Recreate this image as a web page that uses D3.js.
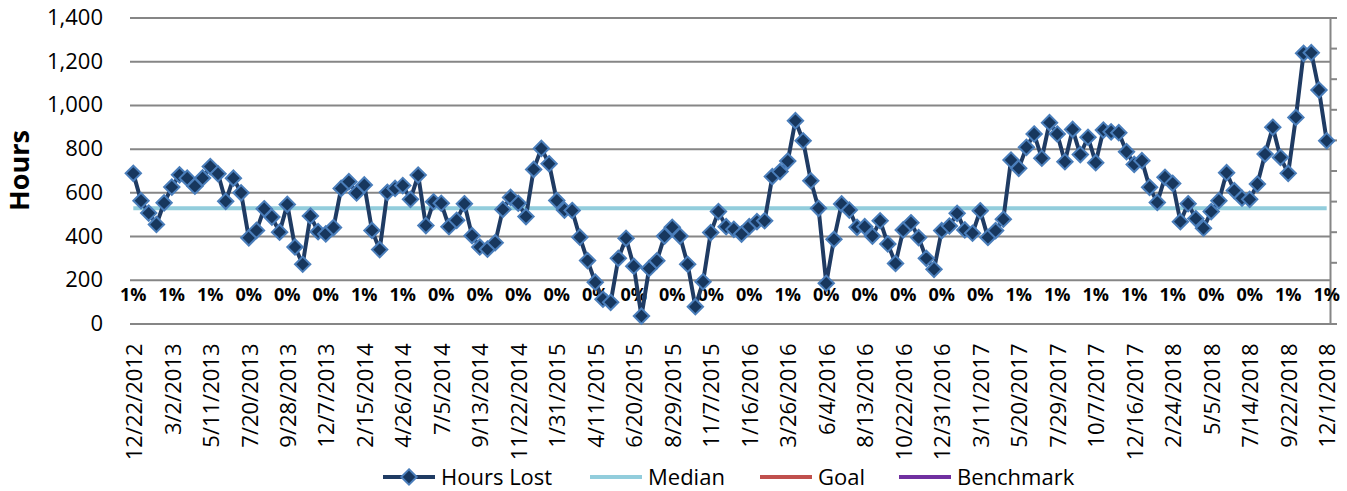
<!DOCTYPE html>
<html>
<head>
<meta charset="utf-8">
<script src="https://cdn.jsdelivr.net/npm/d3@7"></script>
<style>
  body { margin: 0; background: #fff; }
  text { font-family: "Open Sans", "Liberation Sans", sans-serif; fill: #000; }
  .yaxis .tick line { stroke: #868686; stroke-width: 2; }
  .yaxis path { display: none; }
  .y2axis path, .y2axis line { stroke: #868686; stroke-width: 2; }
</style>
</head>
<body>
<div id="chart"></div>
<script>
// tick labels on the category axis (every 5th point)
var dateLabels = ['12/22/2012', '3/2/2013', '5/11/2013', '7/20/2013', '9/28/2013', '12/7/2013',
  '2/15/2014', '4/26/2014', '7/5/2014', '9/13/2014', '11/22/2014', '1/31/2015', '4/11/2015',
  '6/20/2015', '8/29/2015', '11/7/2015', '1/16/2016', '3/26/2016', '6/4/2016', '8/13/2016',
  '10/22/2016', '12/31/2016', '3/11/2017', '5/20/2017', '7/29/2017', '10/7/2017', '12/16/2017',
  '2/24/2018', '5/5/2018', '7/14/2018', '9/22/2018', '12/1/2018'];

// percent labels shown along the bottom, one per labelled date
var pctLabels = ['1%', '1%', '1%', '0%', '0%', '0%', '1%', '1%', '0%', '0%', '0%', '0%', '0%', '0%',
  '0%', '0%', '0%', '1%', '0%', '0%', '0%', '0%', '0%', '1%', '1%', '1%', '1%', '1%', '0%', '0%', '1%', '1%'];

// Hours Lost, one value every two weeks
var hoursLost = [687, 562, 505, 453, 552, 624, 680, 665, 628, 666,
  718, 685, 559, 665, 598, 392, 426, 525, 487, 418,
  545, 350, 271, 492, 420, 410, 439, 618, 649, 597,
  634, 426, 338, 600, 618, 631, 568, 679, 448, 557,
  550, 443, 472, 548, 402, 350, 340, 370, 522, 577,
  550, 489, 705, 801, 731, 563, 519, 517, 395, 288,
  189, 111, 97, 298, 390, 262, 34, 252, 287, 400,
  440, 400, 271, 77, 191, 416, 512, 443, 431, 409,
  443, 466, 470, 672, 695, 743, 928, 836, 653, 527,
  184, 385, 547, 519, 440, 443, 400, 470, 364, 275,
  428, 461, 393, 298, 248, 425, 446, 504, 428, 413,
  516, 394, 425, 477, 748, 710, 806, 867, 756, 919,
  867, 740, 888, 773, 852, 736, 885, 877, 873, 786,
  728, 745, 623, 554, 669, 641, 466, 548, 480, 436,
  512, 562, 690, 608, 573, 568, 638, 775, 898, 760,
  687, 943, 1236, 1239, 1068, 836];

var medianValue = 527;
var yTicks = [0, 200, 400, 600, 800, 1000, 1200, 1400];

var legendItems = [
  { name: 'Hours Lost', color: '#1f3b63', marker: true },
  { name: 'Median', color: '#92cddc', marker: false },
  { name: 'Goal', color: '#c0504d', marker: false },
  { name: 'Benchmark', color: '#7030a0', marker: false }
];
var legendX = [383, 590, 760, 899];

var margin = { top: 17.5, right: 17, bottom: 167.5, left: 130 };
var svgWidth = 1347, svgHeight = 491;
var width = svgWidth - margin.left - margin.right;
var height = svgHeight - margin.top - margin.bottom;

var svg = d3.select('#chart').append('svg')
  .attr('width', svgWidth)
  .attr('height', svgHeight)
  .append('g')
  .attr('transform', `translate(${margin.left},${margin.top})`);

var n = hoursLost.length;
var xScale = d3.scaleLinear().domain([-0.43, n - 1 + 0.43]).range([0, width]);
var yScale = d3.scaleLinear().domain([0, 1400]).range([height, 0]);
var y2Scale = d3.scaleLinear().domain([0, 1]).range([height, 0]);

// gridlines + left labels
var yAxis = d3.axisLeft(yScale)
  .tickValues(yTicks)
  .tickSizeInner(-width)
  .tickSizeOuter(0)
  .tickPadding(27)
  .tickFormat(d3.format(','));

svg.append('g')
  .attr('class', 'yaxis')
  .call(yAxis)
  .selectAll('text')
  .style('font-size', '22px');

// secondary axis on the right, ticks only
var y2Axis = d3.axisRight(y2Scale)
  .ticks(10)
  .tickSizeInner(7)
  .tickSizeOuter(0)
  .tickFormat('');

svg.append('g')
  .attr('class', 'y2axis')
  .attr('transform', `translate(${width},0)`)
  .call(y2Axis);

// y title
svg.append('text')
  .attr('text-anchor', 'middle')
  .attr('transform', `translate(${-margin.left + 29},${153}) rotate(-90)`)
  .style('font-size', '27px')
  .style('font-weight', 'bold')
  .text('Hours');

// date labels
var labelIdx = dateLabels.map(function (d, i) { return i * 5; });
svg.selectAll('.datelabel')
  .data(dateLabels)
  .enter()
  .append('text')
  .attr('class', 'datelabel')
  .attr('text-anchor', 'end')
  .attr('transform', function (d, i) { return `translate(${xScale(labelIdx[i]) + 1},${height + 20}) rotate(-90)`; })
  .attr('dy', '0.35em')
  .style('font-size', '22px')
  .text(function (d) { return d; });

// percent labels
svg.selectAll('.pctlabel')
  .data(pctLabels)
  .enter()
  .append('text')
  .attr('class', 'pctlabel')
  .attr('text-anchor', 'middle')
  .attr('x', function (d, i) { return xScale(labelIdx[i]); })
  .attr('y', yScale(130))
  .attr('dy', '0.35em')
  .style('font-size', '18px')
  .style('font-weight', 'bold')
  .text(function (d) { return d; });

// median
svg.append('line')
  .attr('x1', xScale(0))
  .attr('x2', xScale(n - 1))
  .attr('y1', yScale(medianValue))
  .attr('y2', yScale(medianValue))
  .attr('stroke', '#92cddc')
  .attr('stroke-width', 4);

// hours lost line
var line = d3.line()
  .x(function (d, i) { return xScale(i); })
  .y(function (d) { return yScale(d); });

svg.append('path')
  .datum(hoursLost)
  .attr('fill', 'none')
  .attr('stroke', '#1f3b63')
  .attr('stroke-width', 4)
  .attr('stroke-linejoin', 'round')
  .attr('d', line);

var diamond = d3.symbol().type(d3.symbolDiamond2).size(150);

svg.selectAll('.pt')
  .data(hoursLost)
  .enter()
  .append('path')
  .attr('class', 'pt')
  .attr('d', diamond)
  .attr('transform', function (d, i) { return `translate(${xScale(i)},${yScale(d)})`; })
  .attr('fill', '#17375e')
  .attr('stroke', '#4a7ebb')
  .attr('stroke-width', 2);

// legend
var legendY = 477 - margin.top;
var lg = svg.selectAll('.legend')
  .data(legendItems)
  .enter()
  .append('g')
  .attr('class', 'legend')
  .attr('transform', function (d, i) { return `translate(${legendX[i] - margin.left},${legendY})`; });

lg.append('line')
  .attr('x1', 0).attr('x2', 52)
  .attr('stroke', function (d) { return d.color; })
  .attr('stroke-width', 4);

lg.filter(function (d) { return d.marker; })
  .append('path')
  .attr('d', diamond)
  .attr('transform', 'translate(26,0)')
  .attr('fill', '#17375e')
  .attr('stroke', '#4a7ebb')
  .attr('stroke-width', 2);

lg.append('text')
  .attr('x', 58)
  .attr('dy', '0.35em')
  .style('font-size', '22px')
  .text(function (d) { return d.name; });
</script>
</body>
</html>
